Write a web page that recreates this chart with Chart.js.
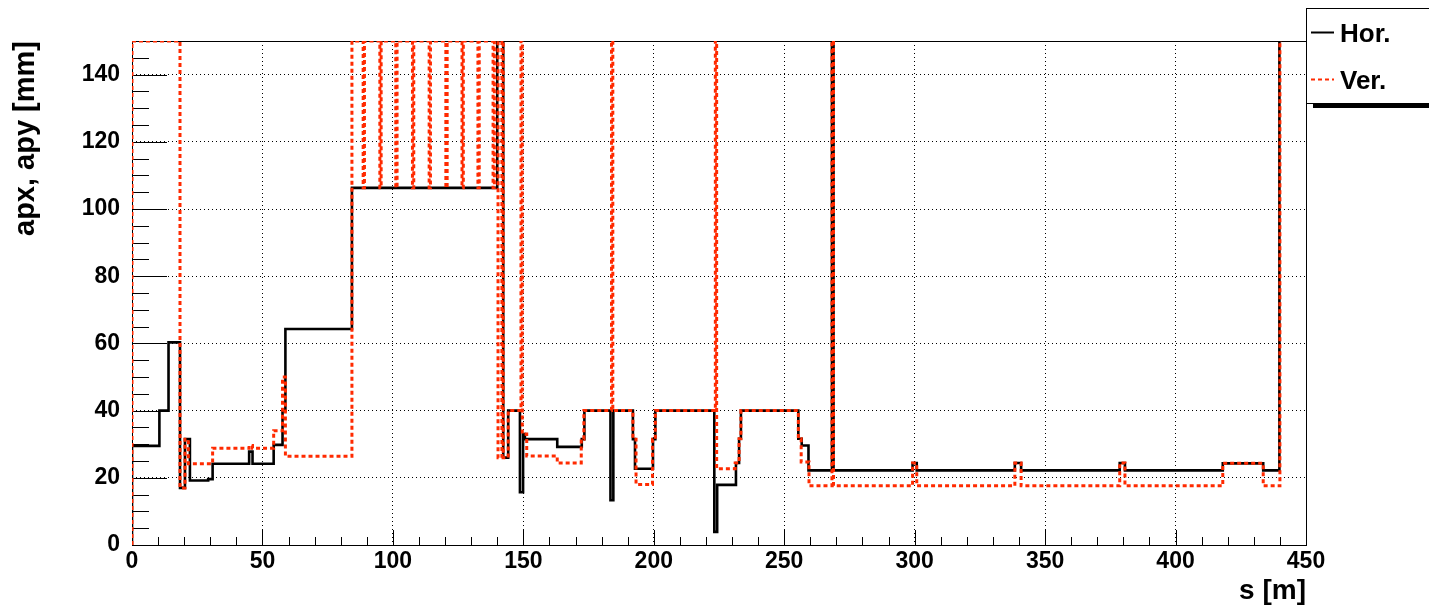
<!DOCTYPE html>
<html>
<head>
<meta charset="utf-8">
<script src="https://cdn.jsdelivr.net/npm/chart.js@4"></script>
<style>
  html, body { margin: 0; padding: 0; background: #fff; }
  #apChart { display: block; }
</style>
</head>
<body>
<canvas id="apChart" width="1429" height="607"></canvas>
<script>
// aperture along the line, step form: value holds from s[i] until s[i+1]
const seriesNames = ['Hor.', 'Ver.'];

const horS = [0, 0, 10.5, 14, 18.4, 20.3, 22.2, 29.2, 30.9, 44.9,
              46.2, 54.3, 57.7, 58.8, 84.3, 140.0, 142.3, 144.2, 148.7, 149.9,
              150.6, 163.0, 172.4, 173.4, 183.4, 184.5, 192.0, 192.8, 199.7, 200.6,
              223.2, 224.3, 231.5, 232.7, 233.4, 255.4, 256.7, 259.3, 268.3, 268.9,
              299.2, 300.8, 338.4, 340.8, 378.6, 380.6, 418.1, 433.6, 439.8, 440.5];
const horA = [0, 29.5, 40, 60.3, 17, 31.5, 19.2, 19.6, 24.2, 27.8,
              24.2, 29.8, 40, 64.3, 106.3, 150, 26, 40, 15.7, 33,
              31.5, 29.2, 31.5, 40, 13.3, 40, 31.5, 22.7, 31.5, 40,
              3.9, 17.9, 24.4, 31.6, 40, 31.6, 29.6, 22.2, 150, 22.2,
              24.4, 22.2, 24.4, 22.2, 24.4, 22.2, 24.3, 22.2, 150, 150];

const verS = [0, 0, 18.4, 20.3, 21.6, 30.9, 44.9, 46.2, 54.3, 57.7,
              58.8, 84.3, 88.6, 89.1, 95.0, 95.5, 101.1, 101.6, 107.5, 108.0,
              113.9, 114.4, 120.3, 120.8, 126.5, 127.0, 132.6, 133.1, 138.4, 138.9,
              140.3, 141.8, 142.3, 144.2, 149.1, 149.6, 151.3, 163.0, 172.2, 173.2,
              183.8, 184.3, 192.0, 193.2, 199.5, 200.6, 223.6, 224.1, 231.2, 232.7,
              233.4, 255.4, 256.5, 259.5, 268.3, 268.9, 299.2, 300.8, 338.4, 340.8,
              378.6, 380.6, 418.1, 433.6, 440.0, 440.5];
const verA = [0, 150, 17, 31.5, 24.2, 28.8, 29.6, 28.8, 34, 50,
              26.4, 150, 106.3, 150, 106.3, 150, 106.3, 150, 106.3, 150,
              106.3, 150, 106.3, 150, 106.3, 150, 106.3, 150, 106.3, 150,
              26, 150, 26, 40, 150, 33, 26.5, 24.4, 31.5, 40,
              150, 40, 31.5, 18, 31.5, 40, 150, 22.7, 24.4, 31.6,
              40, 31.6, 24.7, 17.6, 150, 17.6, 24.4, 17.6, 24.4, 17.6,
              24.4, 17.6, 24.3, 17.6, 150, 150];

const FONT = "'Liberation Sans', Arial, Helvetica, sans-serif";

function toPoints(s, a) {
    return s.map((v, i) => ({ x: v, y: a[i] }));
}

// ROOT style frame with ticks pointing inwards
const frameTicks = {
    id: 'frameTicks',
    beforeDatasetsDraw(chart) {
        const ctx = chart.ctx;
        const a = chart.chartArea;
        const xs = chart.scales.x, ys = chart.scales.y;
        ctx.save();
        ctx.strokeStyle = '#000';
        ctx.lineWidth = 1;
        ctx.strokeRect(Math.round(a.left) + 0.5, Math.round(a.top) + 0.5,
                       Math.round(a.right - a.left), Math.round(a.bottom - a.top));
        ctx.beginPath();
        for (let v = 0; v <= 450; v += 10) {
            const px = Math.round(xs.getPixelForValue(v)) + 0.5;
            const len = v % 50 === 0 ? 15 : 8;
            ctx.moveTo(px, a.bottom);
            ctx.lineTo(px, a.bottom - len);
        }
        for (let v = 0; v <= 150; v += 5) {
            const py = Math.round(ys.getPixelForValue(v)) + 0.5;
            const len = v % 20 === 0 ? 35 : 17;
            ctx.moveTo(a.left, py);
            ctx.lineTo(a.left + len, py);
        }
        ctx.stroke();
        ctx.restore();
    },
    afterDraw(chart) {
        const ctx = chart.ctx;
        const a = chart.chartArea;
        const ds = chart.data.datasets;
        ctx.save();
        ctx.fillStyle = '#000';
        // axis titles
        ctx.font = 'bold 28px ' + FONT;
        ctx.textAlign = 'right';
        ctx.textBaseline = 'alphabetic';
        ctx.fillText('s [m]', a.right, 599);
        ctx.translate(34, a.top);
        ctx.rotate(-Math.PI / 2);
        ctx.font = 'bold 29px ' + FONT;
        ctx.fillText('apx, apy [mm]', 0, 0);
        ctx.restore();

        // legend box, cut at the right edge
        ctx.save();
        ctx.fillStyle = '#000';
        ctx.fillRect(1313, 104, 130, 4);
        ctx.fillStyle = '#fff';
        ctx.fillRect(1306.5, 8.5, 140, 95);
        ctx.strokeStyle = '#000';
        ctx.lineWidth = 1;
        ctx.strokeRect(1306.5, 8.5, 140, 95);
        const rows = [32, 79];
        ctx.font = 'bold 26px ' + FONT;
        ctx.textAlign = 'left';
        ctx.textBaseline = 'middle';
        ds.forEach((d, i) => {
            ctx.beginPath();
            ctx.strokeStyle = d.borderColor;
            ctx.lineWidth = 2;
            ctx.setLineDash(d.borderDash || []);
            ctx.moveTo(1311, rows[i] + 0.5);
            ctx.lineTo(1334, rows[i] + 0.5);
            ctx.stroke();
            ctx.setLineDash([]);
            ctx.fillStyle = '#000';
            ctx.fillText(d.label, 1340, rows[i] + 3);
        });
        ctx.restore();
    }
};

const ctx = document.getElementById('apChart').getContext('2d');
const chart = new Chart(ctx, {
    type: 'line',
    data: {
        datasets: [
            {
                label: seriesNames[0],
                data: toPoints(horS, horA),
                borderColor: '#000',
                borderWidth: 2.6,
                stepped: true,
                order: 2,
            },
            {
                label: seriesNames[1],
                data: toPoints(verS, verA),
                borderColor: '#ff2a00',
                borderWidth: 3,
                borderDash: [4, 3],
                stepped: true,
                order: 1,
            },
        ],
    },
    options: {
        responsive: false,
        animation: false,
        events: [],
        layout: { padding: { left: 0, top: 41, right: 123, bottom: 0 } },
        elements: { point: { radius: 0 }, line: { tension: 0, fill: false } },
        plugins: { legend: { display: false }, tooltip: { enabled: false } },
        scales: {
            x: {
                type: 'linear',
                min: 0,
                max: 450,
                afterFit(scale) { scale.height = 62; },
                ticks: {
                    stepSize: 50,
                    padding: 5,
                    color: '#000',
                    font: { family: FONT, size: 23, weight: 'bold', lineHeight: 1 },
                },
                grid: { color: '#000', lineWidth: 1, drawTicks: false },
                border: { display: false, dash: [1, 3] },
            },
            y: {
                type: 'linear',
                min: 0,
                max: 150,
                afterFit(scale) { scale.width = 132; },
                ticks: {
                    stepSize: 20,
                    includeBounds: false,
                    padding: 12,
                    color: '#000',
                    font: { family: FONT, size: 23, weight: 'bold' },
                },
                grid: { color: '#000', lineWidth: 1, drawTicks: false },
                border: { display: false, dash: [1, 3] },
            },
        },
    },
    plugins: [frameTicks],
});
</script>
</body>
</html>
